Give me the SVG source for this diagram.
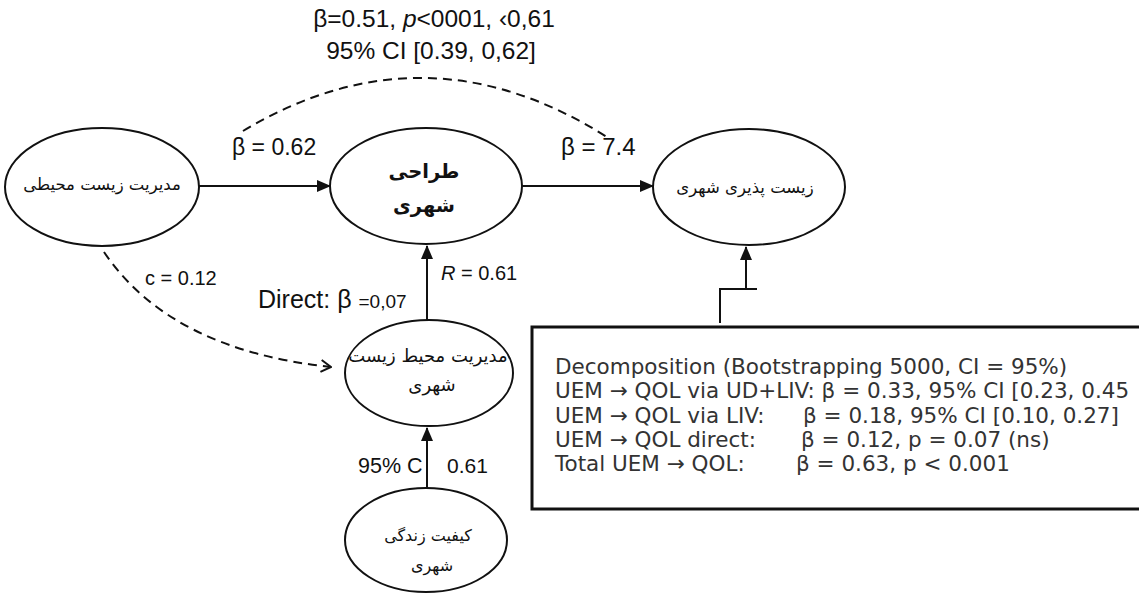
<svg xmlns="http://www.w3.org/2000/svg" width="1139" height="593" viewBox="0 0 1139 593">
<style>
.node ellipse{fill:#fff;stroke:#111;stroke-width:2}
.fa{font-family:"DejaVu Sans",sans-serif;fill:#111;text-anchor:middle;direction:rtl}
.lbl{font-family:"Liberation Sans",Arial,sans-serif;fill:#111}
.edge{fill:none;stroke:#111;stroke-width:2}
.dash{fill:none;stroke:#111;stroke-width:2;stroke-dasharray:9 6}
.box{font-family:"DejaVu Sans",sans-serif;font-size:21.5px;fill:#333}
</style>
<defs>
<marker id="ah" markerWidth="14" markerHeight="12" refX="13" refY="6" orient="auto" markerUnits="userSpaceOnUse">
<path d="M0,0 L14,6 L0,12 Z" fill="#111"/>
</marker>
<marker id="oa" markerWidth="12" markerHeight="14" refX="11" refY="7" orient="auto" markerUnits="userSpaceOnUse">
<path d="M1,1 L11,7 L1,13" fill="none" stroke="#111" stroke-width="2"/>
</marker>
</defs>
<rect width="1139" height="593" fill="#fff"/>

<g id="connectors">
<line class="edge" x1="199" y1="186" x2="330" y2="186" marker-end="url(#ah)"/>
<line class="edge" x1="522" y1="186" x2="653" y2="186" marker-end="url(#ah)"/>
<line class="edge" x1="427" y1="320" x2="427" y2="246" marker-end="url(#ah)"/>
<line class="edge" x1="427" y1="488" x2="427" y2="428" marker-end="url(#ah)"/>
<path class="edge" d="M720,323 L720,289 L757,289 M746,289 L746,247" />
<line x1="746" y1="289" x2="746" y2="247" stroke="none" marker-end="url(#ah)"/>
<path class="dash" d="M243,131 Q425,22 607,137"/>
<path class="dash" d="M104,252 Q170,350 331,367" marker-end="url(#oa)"/>
</g>

<g id="node-env">
<g class="node"><ellipse cx="102" cy="187" rx="97" ry="59"/></g>
<text class="fa" x="102" y="190" font-size="16.5">مدیریت زیست محیطی</text>
</g>
<g id="node-ud">
<g class="node"><ellipse cx="426" cy="186" rx="96" ry="58"/></g>
<text class="fa" x="424" y="178" font-size="19.5" font-weight="bold">طراحی</text>
<text class="fa" x="424" y="212" font-size="19.5" font-weight="bold">شهری</text>
</g>
<g id="node-liv">
<g class="node"><ellipse cx="749" cy="187" rx="96" ry="58"/></g>
<text class="fa" x="745" y="193" font-size="16.5">زیست پذیری شهری</text>
</g>
<g id="node-uem">
<g class="node"><ellipse cx="429" cy="373" rx="84" ry="53"/></g>
<text class="fa" x="428" y="362" font-size="18">مدیریت محیط زیست</text>
<text class="fa" x="432" y="391" font-size="18">شهری</text>
</g>
<g id="node-qol">
<g class="node"><ellipse cx="426" cy="540" rx="81" ry="52"/></g>
<text class="fa" x="428" y="541" font-size="16">کیفیت زندگی</text>
<text class="fa" x="432" y="571" font-size="16">شهری</text>
</g>

<g id="labels">
<text class="lbl" x="434" y="27" font-size="24.5" text-anchor="middle">β=0.51, <tspan font-style="italic">p</tspan>&lt;0001, ‹0,61</text>
<text class="lbl" x="431" y="59" font-size="24.5" text-anchor="middle">95% CI [0.39, 0,62]</text>
<text class="lbl" x="232" y="155" font-size="23">β = 0.62</text>
<text class="lbl" x="561" y="155" font-size="24">β = 7.4</text>
<text class="lbl" x="145" y="285" font-size="20">c = 0.12</text>
<text class="lbl" x="258" y="308" font-size="25">Direct: β <tspan font-size="19">=0,07</tspan></text>
<text class="lbl" x="441" y="280" font-size="20"><tspan font-style="italic">R</tspan> = 0.61</text>
<text class="lbl" x="358" y="473" font-size="21.5">95% C</text>
<text class="lbl" x="447" y="473" font-size="21">0.61</text>
</g>

<g id="decomposition">
<rect x="532" y="327" width="620" height="182" fill="#fff" stroke="#111" stroke-width="3"/>
<text class="box" x="555" y="374">Decomposition (Bootstrapping 5000, CI = 95%)</text>
<text class="box" x="555" y="398">UEM → QOL via UD+LIV: β = 0.33, 95% CI [0.23, 0.45</text>
<text class="box" y="423"><tspan x="555">UEM → QOL via LIV:</tspan><tspan x="803">β = 0.18, 95% CI [0.10, 0.27]</tspan></text>
<text class="box" y="447"><tspan x="555">UEM → QOL direct:</tspan><tspan x="801">β = 0.12, p = 0.07 (ns)</tspan></text>
<text class="box" y="471"><tspan x="555">Total UEM → QOL:</tspan><tspan x="796">β = 0.63, p &lt; 0.001</tspan></text>
</g>
</svg>
